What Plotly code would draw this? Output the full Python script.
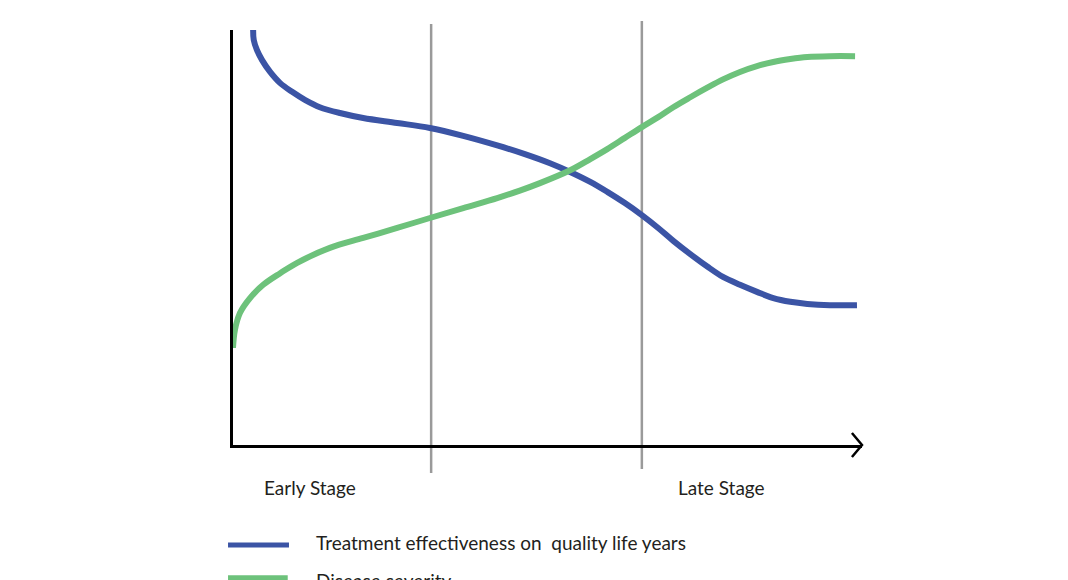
import plotly.graph_objects as go

# ---- data ----
blue_x = [0.32, 0.33, 0.38, 0.46, 0.59, 0.75, 0.94, 1.15, 1.38, 1.70, 2.07, 2.61, 3.13, 3.66, 4.20, 4.64,
          5.04, 5.36, 5.68, 5.95, 6.23, 6.50, 6.76, 7.00, 7.27, 7.54, 7.79, 8.06, 8.33, 8.59, 8.86, 9.13, 9.49, 9.92]
blue_y = [100, 97.6, 95.2, 92.8, 89.9, 87.2, 85.1, 83.1, 81.4, 80.0, 78.8, 77.6, 76.4, 74.5, 72.2, 70.1,
          67.9, 65.8, 63.4, 61.0, 58.3, 55.4, 52.3, 49.2, 46.0, 43.0, 40.5, 38.6, 36.9, 35.4, 34.5, 34.0, 33.7, 33.7]
green_x = [0.0, 0.03, 0.11, 0.27, 0.48, 0.75, 1.02, 1.54, 2.07, 2.61, 3.13, 3.66, 4.20, 4.56, 4.88, 5.36,
           5.68, 5.95, 6.23, 6.50, 6.76, 7.00, 7.27, 7.54, 7.79, 8.06, 8.33, 8.59, 8.86, 9.13, 9.49, 9.89]
green_y = [23.4, 27.7, 31.8, 35.4, 38.6, 41.4, 43.9, 47.5, 49.9, 52.3, 54.7, 57.1, 59.5, 61.3, 63.1, 66.2,
           68.9, 71.3, 74.0, 76.6, 79.0, 81.4, 83.8, 86.1, 88.1, 89.9, 91.3, 92.3, 93.0, 93.5, 93.7, 93.7]
stage_lines_x = [3.15, 6.50]
series_names = ["Treatment effectiveness on  quality life years", "Disease severity"]
stage_labels = ["Early Stage", "Late Stage"]

BLUE = "#3B54A5"
GREEN = "#6DC27B"
GRAY = "#9A9A9A"
TEXT = "#231F20"
FONT = "Lato"
FS = 19

fig = go.Figure()
fig.add_trace(go.Scatter(x=blue_x, y=blue_y, mode="lines", name=series_names[0],
                         line=dict(color=BLUE, width=6, shape="spline", smoothing=1.0)))
fig.add_trace(go.Scatter(x=green_x, y=green_y, mode="lines", name=series_names[1],
                         line=dict(color=GREEN, width=6, shape="spline", smoothing=1.0)))

# stage separators
tops = [1.0145, 1.0217]
bots = [-0.0675, -0.0578]
for sx, t, b in zip(stage_lines_x, tops, bots):
    fig.add_shape(type="line", xref="x", yref="paper", x0=sx, x1=sx, y0=b, y1=t,
                  line=dict(color=GRAY, width=2.5), layer="below")

# arrow head on x axis
fig.add_shape(type="path", xref="paper", yref="paper",
              path="M 0.984 0.029 L 1.0 0 L 0.984 -0.029",
              line=dict(color="black", width=2.5))

# stage labels
for lbl, xp in zip(stage_labels, [0.0461, 0.704]):
    fig.add_annotation(x=xp, y=-0.1036, xref="paper", yref="paper", text=lbl,
                       showarrow=False, xanchor="left", yanchor="middle",
                       font=dict(family=FONT, size=FS, color=TEXT))

# manual legend
fig.add_shape(type="line", xref="paper", yref="paper", x0=-0.0079, x1=0.089, y0=-0.241, y1=-0.241,
              line=dict(color=BLUE, width=5))
fig.add_shape(type="line", xref="paper", yref="paper", x0=-0.0079, x1=0.087, y0=-0.320, y1=-0.320,
              line=dict(color=GREEN, width=5))
fig.add_annotation(x=0.129, y=-0.236, xref="paper", yref="paper", text=series_names[0].replace("  ", "&nbsp; "),
                   showarrow=False, xanchor="left", yanchor="middle",
                   font=dict(family=FONT, size=FS, color=TEXT))
fig.add_annotation(x=0.129, y=-0.327, xref="paper", yref="paper", text=series_names[1],
                   showarrow=False, xanchor="left", yanchor="middle",
                   font=dict(family=FONT, size=FS, color=TEXT))

fig.update_layout(
    width=1060, height=572,
    margin=dict(l=225, r=206, t=22, b=135),
    paper_bgcolor="white", plot_bgcolor="white",
    showlegend=False,
    xaxis=dict(range=[0, 10], showgrid=False, zeroline=False, showticklabels=False, ticks="",
               showline=True, linecolor="black", linewidth=2.5, fixedrange=True),
    yaxis=dict(range=[0, 100], showgrid=False, zeroline=False, showticklabels=False, ticks="",
               showline=True, linecolor="black", linewidth=2.5, fixedrange=True),
)

fig.write_html("out.html")
